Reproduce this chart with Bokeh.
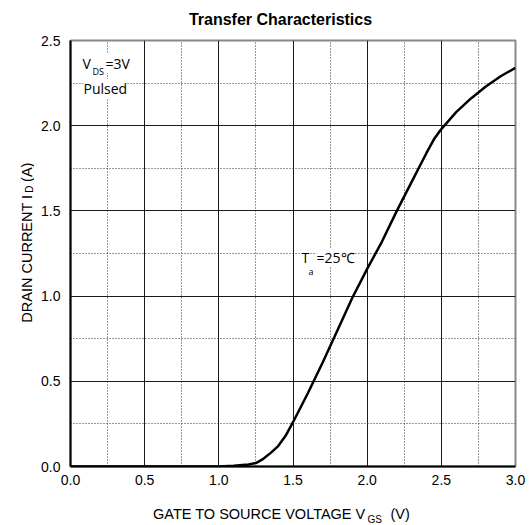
import math
from bokeh.plotting import figure
from bokeh.layouts import column, row
from bokeh.models import Label, FixedTicker, Range1d, NumeralTickFormatter
from bokeh.embed import file_html
from bokeh.resources import INLINE

# ---- data ----
vgs = [0.0, 0.5, 1.0, 1.1, 1.2, 1.25, 1.3, 1.35, 1.4, 1.45, 1.5, 1.6, 1.7, 1.8,
       1.9, 2.0, 2.1, 2.2, 2.3, 2.4, 2.45, 2.5, 2.55, 2.6, 2.7, 2.8, 2.9, 3.0]
i_d = [0.0, 0.0, 0.0, 0.004, 0.012, 0.02, 0.045, 0.08, 0.12, 0.18, 0.26, 0.43,
       0.61, 0.80, 0.99, 1.16, 1.32, 1.50, 1.67, 1.84, 1.92, 1.98, 2.03, 2.08,
       2.16, 2.23, 2.29, 2.34]
x_ticks = [0.0, 0.5, 1.0, 1.5, 2.0, 2.5, 3.0]
x_minor = [0.25, 0.75, 1.25, 1.75, 2.25, 2.75]
y_ticks = [0.0, 0.5, 1.0, 1.5, 2.0, 2.5]
y_minor = [0.25, 0.75, 1.25, 1.75, 2.25]

# ---- page geometry (canvas pixels) ----
W, H = 531, 525
TITLE_H = 30          # strip with the chart title
XT_H = 25             # strip with the x-axis title
YT_W = 34             # strip with the y-axis title
FL, FR, FT, FB = 70, 515, 40, 466   # plot frame edges on the page
X0, X1, Y0, Y1 = 0.0, 3.0, 0.0, 2.5

PW, PH = W - YT_W, H - TITLE_H - XT_H
p = figure(width=PW, height=PH, x_range=Range1d(X0, X1), y_range=Range1d(Y0, Y1),
           output_backend="svg", toolbar_location=None,
           min_border_left=FL - YT_W, min_border_right=W - FR,
           min_border_top=FT - TITLE_H, min_border_bottom=(H - XT_H) - FB)
p.background_fill_color = "white"
p.border_fill_color = "white"
p.outline_line_color = "#888888"
p.outline_line_width = 2

for ax, tk, mn in ((p.xaxis, x_ticks, x_minor), (p.yaxis, y_ticks, y_minor)):
    ax.ticker = FixedTicker(ticks=tk, minor_ticks=mn)
    ax.formatter = NumeralTickFormatter(format="0.0")
    ax.axis_line_width = 2
    ax.axis_line_color = "black"
    ax.major_tick_out = 0
    ax.major_tick_in = 0
    ax.minor_tick_out = 0
    ax.minor_tick_in = 0
    ax.major_label_text_font = "Liberation Sans"
    ax.major_label_text_font_size = "14px"
    ax.major_label_text_color = "black"
p.xaxis.major_label_standoff = 8
p.yaxis.major_label_standoff = 10

for g, tk, mn in ((p.xgrid, x_ticks, x_minor), (p.ygrid, y_ticks, y_minor)):
    g.ticker = FixedTicker(ticks=tk, minor_ticks=mn)
    g.grid_line_color = "#1a1a1a"
    g.grid_line_width = 1
    g.minor_grid_line_color = "#333333"
    g.minor_grid_line_dash = "1 2"
    g.minor_grid_line_width = 1

p.line(vgs, i_d, line_width=2.5, line_color="black")


def text_strip(x0, y0, x1, y1):
    """A bare figure covering the page box (x0,y0)-(x1,y1); data units = page px."""
    f = figure(width=x1 - x0, height=y1 - y0,
               x_range=Range1d(x0, x1), y_range=Range1d(y1, y0),
               x_axis_type=None, y_axis_type=None,
               output_backend="svg", toolbar_location=None,
               min_border=0, min_border_left=0, min_border_right=0,
               min_border_top=0, min_border_bottom=0)
    f.outline_line_color = None
    f.background_fill_color = "white"
    f.border_fill_color = "white"
    f.grid.visible = False
    return f


def put(fig, text, x, y, size, font="Liberation Sans", bold=False, angle=0.0,
        align="left", bg=None):
    kw = {}
    if bg:
        kw["background_fill_color"] = bg
    fig.add_layout(Label(x=x, y=y, text=text, text_font=font,
                         text_font_size=f"{size}px",
                         text_font_style="bold" if bold else "normal",
                         text_color="black", text_align=align,
                         text_baseline="alphabetic", angle=angle, **kw))


def cx(px):
    return X0 + (px - FL) * (X1 - X0) / (FR - FL)


def cy(py):
    return Y0 + (FB - py) * (Y1 - Y0) / (FB - FT)


# title strip
t_fig = text_strip(0, 0, W, TITLE_H)
put(t_fig, "Transfer Characteristics", 280, 19, 16, bold=True, align="center")

# y-axis title strip (rotated text, reads bottom to top)
y_fig = text_strip(0, TITLE_H, YT_W, H - XT_H)
put(y_fig, "DRAIN CURRENT I", 26, 200, 14.5, angle=math.pi / 2, align="right")
put(y_fig, "D", 29, 198, 10, angle=math.pi / 2)
put(y_fig, "(A)", 26, 186, 14.5, angle=math.pi / 2)

# x-axis title strip
x_fig = text_strip(0, H - XT_H, W, H)
put(x_fig, "GATE TO SOURCE VOLTAGE V", 365, 513, 14.5, align="right")
put(x_fig, "GS", 367, 519, 10)
put(x_fig, "(V)", 390, 513, 14.5)

# annotations inside the plot
AF = "Open Sans"
put(p, "V", cx(82), cy(63), 14, font=AF, bg="white")
put(p, "DS", cx(92), cy(71), 9, font=AF, bg="white")
put(p, "=3V", cx(105), cy(63), 14, font=AF, bg="white")
put(p, "Pulsed", cx(83), cy(88), 14, font=AF, bg="white")
put(p, "T", cx(301), cy(257), 14, font=AF, bg="white")
put(p, "a", cx(308), cy(271), 9, font=AF, bg="white")
put(p, "=25\u2103", cx(316), cy(257), 14, font=AF, bg="white")

layout = column(t_fig, row(y_fig, p), x_fig)
open("out.html", "w").write(file_html(layout, INLINE))
